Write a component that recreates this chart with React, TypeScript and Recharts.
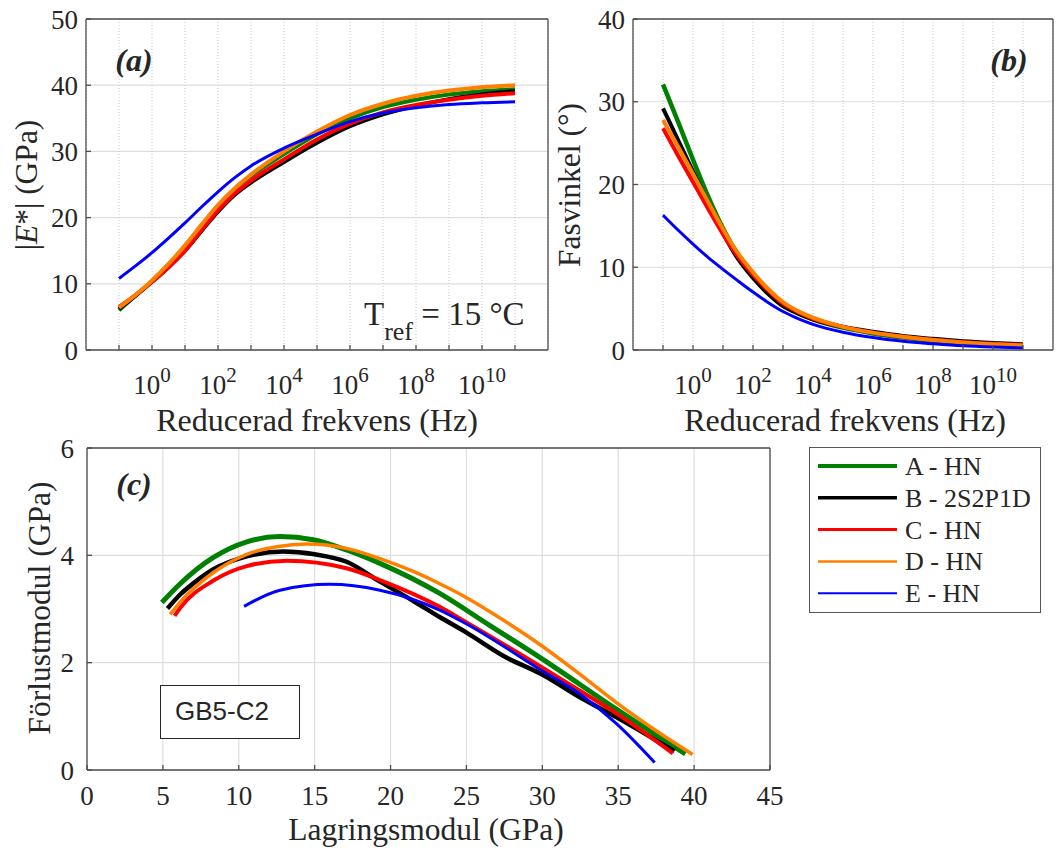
import { LineChart, Line, XAxis, YAxis, CartesianGrid } from "recharts";

const SERIF = '"Liberation Serif", "Times New Roman", serif';
const SANS = '"Liberation Sans", Arial, sans-serif';
const INK = "#262626";
const FRAME = "#4d4d4d";
const GRID = "#dedede";

// series (legend order)
const seriesKeys = ["A", "B", "C", "D", "E"];
const seriesNames = ["A - HN", "B - 2S2P1D", "C - HN", "D - HN", "E - HN"];
const seriesColors = ["#008000", "#000000", "#ff0000", "#ff8000", "#0000ff"];

// (a) |E*| vs log10 of reduced frequency
const freqA = [-1, -0.5, 0, 0.5, 1, 1.5, 2, 2.5, 3, 4, 5, 6, 7, 8, 9, 10, 11];
const modA = [6.0, 8.2, 10.4, 12.9, 15.7, 18.8, 21.8, 24.3, 26.3, 29.6, 32.6, 35.0, 36.7, 37.8, 38.6, 39.1, 39.4];
const modB = [6.2, 8.2, 10.3, 12.5, 15.0, 18.0, 20.9, 23.4, 25.3, 28.4, 31.3, 33.8, 35.6, 36.9, 37.9, 38.6, 39.1];
const modC = [6.5, 8.3, 10.3, 12.5, 15.0, 18.1, 21.1, 23.6, 25.6, 28.8, 31.8, 34.2, 35.9, 37.0, 37.8, 38.4, 38.8];
const modD = [6.4, 8.3, 10.5, 13.0, 15.8, 18.9, 21.9, 24.4, 26.5, 30.0, 33.0, 35.5, 37.2, 38.4, 39.2, 39.7, 40.0];
const modE = [10.8, 12.7, 14.7, 16.9, 19.2, 21.6, 23.9, 26.0, 27.8, 30.5, 32.6, 34.5, 35.8, 36.6, 37.1, 37.35, 37.5];

// (b) phase angle vs log10 of reduced frequency
const freqB = [-1, -0.5, 0, 0.5, 1, 1.5, 2, 2.5, 3, 3.5, 4, 5, 6, 7, 8, 9, 10, 11];
const phA = [32.1, 27.6, 23.0, 18.6, 14.7, 11.5, 9.1, 7.1, 5.5, 4.5, 3.7, 2.7, 2.0, 1.5, 1.1, 0.8, 0.6, 0.45];
const phB = [29.2, 25.4, 21.6, 17.8, 14.1, 11.0, 8.7, 6.8, 5.3, 4.4, 3.7, 2.8, 2.2, 1.7, 1.35, 1.05, 0.85, 0.7];
const phC = [26.8, 23.5, 20.3, 17.1, 14.0, 11.3, 9.1, 7.2, 5.6, 4.6, 3.8, 2.8, 2.1, 1.6, 1.25, 0.95, 0.75, 0.6];
const phD = [27.8, 24.6, 21.3, 17.9, 14.6, 11.7, 9.4, 7.4, 5.8, 4.7, 3.9, 2.8, 2.1, 1.6, 1.2, 0.9, 0.7, 0.55];
const phE = [16.3, 14.5, 12.8, 11.2, 9.75, 8.35, 7.0, 5.75, 4.65, 3.8, 3.1, 2.15, 1.5, 1.05, 0.75, 0.5, 0.35, 0.25];

// (c) loss modulus vs storage modulus (GPa)
const storA = [4.93, 6.14, 8.33, 10.53, 12.72, 14.9, 17.1, 19.3, 23.24, 26.5, 29.93, 34.9, 39.43];
const lossA = [3.12, 3.47, 3.96, 4.25, 4.35, 4.29, 4.1, 3.85, 3.29, 2.7, 2.08, 1.13, 0.3];
const storB = [5.3, 6.14, 7.2, 8.33, 10.53, 12.93, 15.0, 17.1, 19.3, 21.5, 23.24, 24.95, 27.6, 29.93, 32.45, 34.9, 38.7];
const lossB = [3.01, 3.27, 3.52, 3.74, 3.98, 4.07, 4.02, 3.88, 3.51, 3.15, 2.85, 2.57, 2.1, 1.79, 1.36, 0.98, 0.35];
const storC = [5.77, 6.14, 8.33, 10.53, 13.16, 17.1, 19.3, 23.24, 24.95, 29.93, 32.45, 34.9, 38.6];
const lossC = [2.87, 3.02, 3.53, 3.8, 3.9, 3.76, 3.54, 3.04, 2.76, 1.92, 1.48, 1.05, 0.31];
const storD = [5.48, 6.14, 8.33, 10.53, 12.5, 14.47, 17.1, 19.3, 21.5, 23.24, 24.95, 27.5, 29.93, 32.4, 34.9, 37.4, 39.9];
const lossD = [2.9, 3.13, 3.68, 4.02, 4.16, 4.21, 4.13, 3.94, 3.7, 3.47, 3.22, 2.78, 2.32, 1.8, 1.25, 0.75, 0.29];
const storE = [10.35, 12.72, 16.0, 19.3, 23.24, 24.95, 29.93, 32.45, 34.9, 37.4];
const lossE = [3.05, 3.35, 3.46, 3.35, 2.98, 2.73, 1.86, 1.42, 0.86, 0.14];

const decadeTicks = [-1, 0, 1, 2, 3, 4, 5, 6, 7, 8, 9, 10, 11];
const modTicks = [0, 10, 20, 30, 40, 50];
const phTicks = [0, 10, 20, 30, 40];
const storTicks = [0, 5, 10, 15, 20, 25, 30, 35, 40, 45];
const lossTicks = [0, 2, 4, 6];

const widthsA = [4, 4, 4, 4, 3];
const widthsB = [4.5, 4, 4, 4, 3];
const widthsC = [5, 4.5, 4, 3.5, 3];

const rowsA = freqA.map((f, i) => ({ f, A: modA[i], B: modB[i], C: modC[i], D: modD[i], E: modE[i] }));
const rowsB = freqB.map((f, i) => ({ f, A: phA[i], B: phB[i], C: phC[i], D: phD[i], E: phE[i] }));
const pairs = (xs: number[], ys: number[]) => xs.map((x, i) => ({ x, y: ys[i] }));
const curvesC = [pairs(storA, lossA), pairs(storB, lossB), pairs(storC, lossC), pairs(storD, lossD), pairs(storE, lossE)];

const tickFont = { fontSize: 27, fill: INK, fontFamily: SERIF };

function PowTick(props: any) {
  const { x, y, payload } = props;
  if (payload.value % 2 !== 0) return <g />;
  return (
    <text x={x} y={y + 44} textAnchor="middle" fontFamily={SERIF} fontSize={27} fill={INK}>
      10
      <tspan dy={-12} fontSize={21}>{payload.value}</tspan>
    </text>
  );
}

// top + right frame axes with inward ticks (MATLAB box)
function frameAxes(xDomain: number[], xTicks: number[], yDomain: number[], yTicks: number[]) {
  return [
    <XAxis key="t" xAxisId="t" orientation="top" type="number" domain={xDomain} ticks={xTicks}
      height={1} tick={false} tickSize={-5} stroke={FRAME} strokeWidth={1.3} />,
    <YAxis key="r" yAxisId="r" orientation="right" type="number" domain={yDomain} ticks={yTicks}
      width={1} tick={false} tickSize={-5} stroke={FRAME} strokeWidth={1.3} />,
  ];
}

function FreqPanel({ rows, yDomain, yTicks, widths, margin, width }: any) {
  return (
    <LineChart width={width} height={440} data={rows} margin={margin}>
      <CartesianGrid vertical={false} stroke={GRID} strokeWidth={1.2} />
      <CartesianGrid horizontal={false} stroke="#c8c8c8" strokeDasharray="1 2" />
      <XAxis dataKey="f" type="number" domain={[-2, 12]} ticks={decadeTicks} height={60}
        tickSize={-5} tickMargin={5} stroke={FRAME} strokeWidth={1.3} tick={<PowTick />} />
      <YAxis type="number" domain={yDomain} ticks={yTicks} width={60} tickSize={-5}
        tickMargin={13} stroke={FRAME} strokeWidth={1.3} tick={tickFont} />
      {frameAxes([-2, 12], decadeTicks, yDomain, yTicks)}
      {seriesKeys.map((k, i) => (
        <Line key={k} dataKey={k} type="monotone" stroke={seriesColors[i]} strokeWidth={widths[i]}
          dot={false} isAnimationActive={false} />
      ))}
    </LineChart>
  );
}

export default function App() {
  return (
    <div style={{ position: "absolute", left: 0, top: 0, width: 1057, height: 852, background: "#fff" }}>
      <style>{`svg text { font-family: "Liberation Serif", "Times New Roman", serif; }`}</style>
      <div style={{ position: "absolute", left: 0, top: 0 }}>
        <FreqPanel rows={rowsA} yDomain={[0, 50]} yTicks={modTicks} widths={widthsA}
          width={560} margin={{ top: 18, right: 11, bottom: 30, left: 26 }} />
      </div>
      <div style={{ position: "absolute", left: 560, top: 0 }}>
        <FreqPanel rows={rowsB} yDomain={[0, 40]} yTicks={phTicks} widths={widthsB}
          width={497} margin={{ top: 18, right: 3, bottom: 30, left: 13 }} />
      </div>
      <div style={{ position: "absolute", left: 0, top: 430 }}>
        <LineChart width={800} height={422} margin={{ top: 17, right: 29, bottom: 22, left: 27 }}>
          <CartesianGrid stroke={GRID} strokeWidth={1.2} />
          <XAxis dataKey="x" type="number" domain={[0, 45]} ticks={storTicks} height={60}
            tickSize={-5} tickMargin={21} stroke={FRAME} strokeWidth={1.3} tick={tickFont} />
          <YAxis type="number" domain={[0, 6]} ticks={lossTicks} width={60} tickSize={-5}
            tickMargin={18} stroke={FRAME} strokeWidth={1.3} tick={tickFont} />
          {frameAxes([0, 45], storTicks, [0, 6], lossTicks)}
          {curvesC.map((pts, i) => (
            <Line key={seriesKeys[i]} data={pts} dataKey="y" type="monotone" stroke={seriesColors[i]}
              strokeWidth={widthsC[i]} dot={false} isAnimationActive={false} />
          ))}
        </LineChart>
      </div>

      {/* titles, tags, annotations and legend */}
      <svg width={1057} height={852} style={{ position: "absolute", left: 0, top: 0, pointerEvents: "none" }}
        fontFamily={SERIF} fill={INK}>
        <text x={317} y={431} fontSize={32} textAnchor="middle">Reducerad frekvens (Hz)</text>
        <text x={845} y={431} fontSize={32} textAnchor="middle">Reducerad frekvens (Hz)</text>
        <text x={426} y={840} fontSize={31.5} textAnchor="middle">Lagringsmodul (GPa)</text>
        <text transform="translate(37,185) rotate(-90)" fontSize={31.5} textAnchor="middle">
          |<tspan fontStyle="italic">E</tspan>*| (GPa)
        </text>
        <text transform="translate(580,185) rotate(-90)" fontSize={31.5} textAnchor="middle">Fasvinkel (°)</text>
        <text transform="translate(50,608) rotate(-90)" fontSize={31.5} textAnchor="middle">Förlustmodul (GPa)</text>

        <text x={134} y={71} fontSize={32} fontWeight="bold" fontStyle="italic" textAnchor="middle">(a)</text>
        <text x={1009} y={71} fontSize={32} fontWeight="bold" fontStyle="italic" textAnchor="middle">(b)</text>
        <text x={134} y={495} fontSize={32} fontWeight="bold" fontStyle="italic" textAnchor="middle">(c)</text>

        <text x={364} y={325} fontSize={33}>
          T<tspan dy={15} fontSize={26}>ref</tspan>
          <tspan dy={-15}> = 15 °C</tspan>
        </text>

        <rect x={160.5} y={685.5} width={139} height={53} fill="#fff" stroke={INK} strokeWidth={1} />
        <text x={175} y={720} fontSize={26} style={{ fontFamily: SANS }}>GB5-C2</text>

        <rect x={809.5} y={447.5} width={231} height={165} fill="#fff" stroke="#555" strokeWidth={1} />
        {seriesNames.map((name, i) => {
          const cy = 466 + i * 31.8;
          return (
            <g key={name}>
              <line x1={818} x2={897} y1={cy} y2={cy} stroke={seriesColors[i]} strokeWidth={widthsC[i] - 1} />
              <text x={905} y={cy + 9} fontSize={26}>{name}</text>
            </g>
          );
        })}
      </svg>
    </div>
  );
}
